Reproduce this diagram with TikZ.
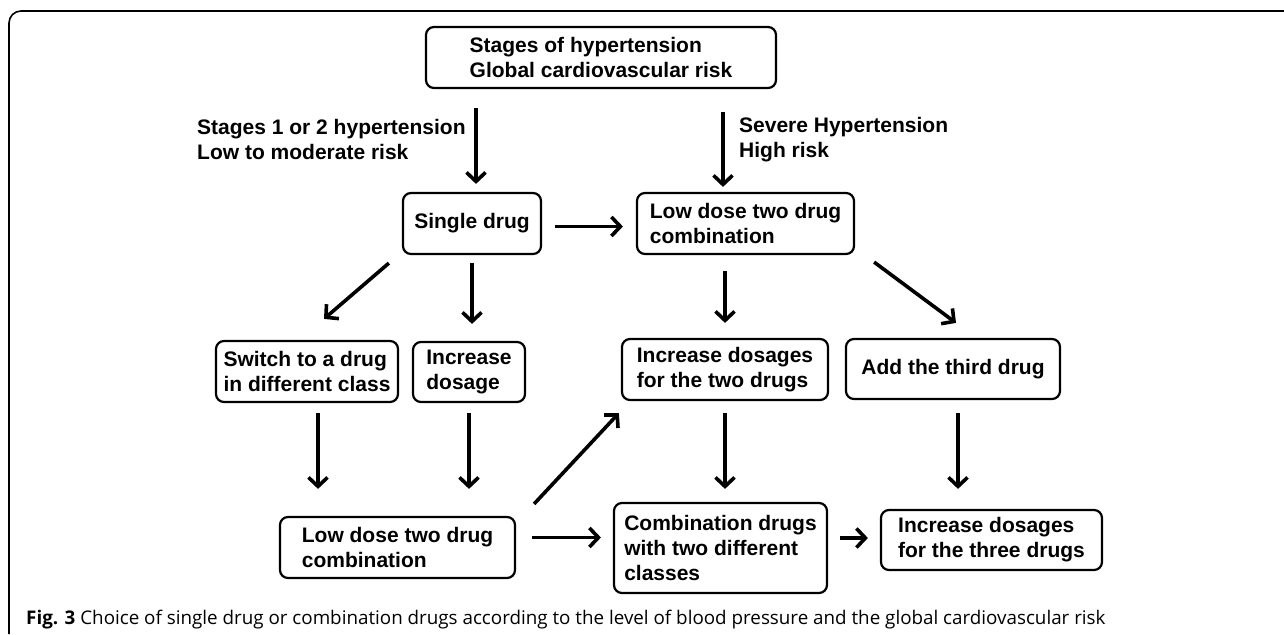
\documentclass[tikz,border=0pt]{standalone}
\usepackage{fontspec}
\setmainfont{Liberation Sans}
\newfontfamily\capfont{Open Sans}
\usetikzlibrary{arrows.meta}
\begin{document}
\begin{tikzpicture}[x=1pt,y=-1pt,
  box/.style={draw, line width=2.2pt, rounded corners=8pt, inner sep=0pt,
    align=left, font=\fontsize{21}{25}\selectfont\bfseries},
  lbl/.style={inner sep=0pt, align=left, anchor=west,
    font=\fontsize{21}{25}\selectfont\bfseries},
  arr/.style={line width=3.6pt, -{Straight Barb[length=9pt,width=19pt]}},
  frame/.style={line width=1.6pt, rounded corners=12pt}]
\useasboundingbox (0,0) rectangle (1284,634);
\draw[frame] (9,634) -- (9,11) -- (1284,11);

% boxes
\node[box, minimum width=350pt, minimum height=61pt] (top) at (601,57.5)
  {Stages of hypertension\\Global cardiovascular risk};
\node[box, minimum width=138pt, minimum height=61pt, align=center] (single) at (472,223.5)
  {Single drug};
\node[box, minimum width=217pt, minimum height=61pt] (ldtop) at (745.5,223.5)
  {Low dose two drug\\combination};
\node[box, minimum width=182pt, minimum height=61pt] (switch) at (307,371.5)
  {Switch to a drug\\in different class};
\node[box, minimum width=112pt, minimum height=60pt] (incdos) at (469,372)
  {Increase\\dosage};
\node[box, minimum width=206pt, minimum height=61pt] (inctwo) at (725,369.5)
  {Increase dosages\\for the two drugs};
\node[box, minimum width=214pt, minimum height=60pt, align=center] (third) at (953,369)
  {Add the third drug};
\node[box, minimum width=235pt, minimum height=61pt] (ldbot) at (397.5,547.5)
  {Low dose two drug\\combination};
\node[box, minimum width=213pt, minimum height=90pt] (comb) at (720.5,548)
  {Combination drugs\\with two different\\classes};
\node[box, minimum width=221pt, minimum height=60pt] (three) at (991.5,540)
  {Increase dosages\\for the three drugs};

% labels
\node[lbl] (lbl1) at (197,139.5) {Stages 1 or 2 hypertension\\Low to moderate risk};
\node[lbl] (lbl2) at (739,139.5) {Severe Hypertension\\High risk};

% arrows
\draw[arr, shorten <=19pt, shorten >=8pt] ([xshift=4pt]single.north |- top.south) -- ([xshift=4pt]single.north);
\draw[arr, shorten <=23pt, shorten >=5pt] ([xshift=-22.5pt]ldtop.north |- top.south) -- ([xshift=-22.5pt]ldtop.north);
\draw[arr, shorten <=13pt, shorten >=13pt] ([yshift=-3pt]single.east) -- ([yshift=-3pt]single.east -| ldtop.west);
\draw[arr] ([shift={(-13pt,-8pt)}]single.south west) -- ([shift={(17pt,21pt)}]switch.north);
\draw[arr, shorten <=8pt, shorten >=17pt] (single.south) -- (single.south |- incdos.north);
\draw[arr, shorten <=16pt, shorten >=15pt] (inctwo.north |- ldtop.south) -- (inctwo.north);
\draw[arr] ([shift={(19pt,-7pt)}]ldtop.south east) -- ([shift={(3pt,15pt)}]third.north);
\draw[arr, shorten <=10pt, shorten >=27pt] ([xshift=11pt]switch.south) -- ([xshift=11pt]switch.south |- ldbot.north);
\draw[arr, shorten <=10pt, shorten >=27pt] (incdos.south) -- (incdos.south |- ldbot.north);
\draw[arr, shorten <=12pt, shorten >=13pt] (inctwo.south) -- (inctwo.south |- comb.north);
\draw[arr, shorten <=13pt, shorten >=20pt] ([xshift=5pt]third.south) -- ([xshift=5pt]third.south |- three.north);
\draw[arr, shorten <=16pt, shorten >=12pt] ([yshift=10pt]ldbot.east) -- ([yshift=10pt]ldbot.east -| comb.west);
\draw[arr] ([shift={(18pt,12pt)}]ldbot.north east) -- ([shift={(-2pt,-12pt)}]inctwo.south west);
\draw[arr, shorten <=12pt, shorten >=12pt] ([yshift=10pt]comb.east) -- ([yshift=10pt]comb.east -| three.west);

% caption
\node[inner sep=0pt, anchor=west, font=\capfont\fontsize{18.8}{22}\selectfont] (cap) at (26,620)
  {\textbf{Fig. 3} Choice of single drug or combination drugs according to the level of blood pressure and the global cardiovascular risk};
\end{tikzpicture}
\end{document}
